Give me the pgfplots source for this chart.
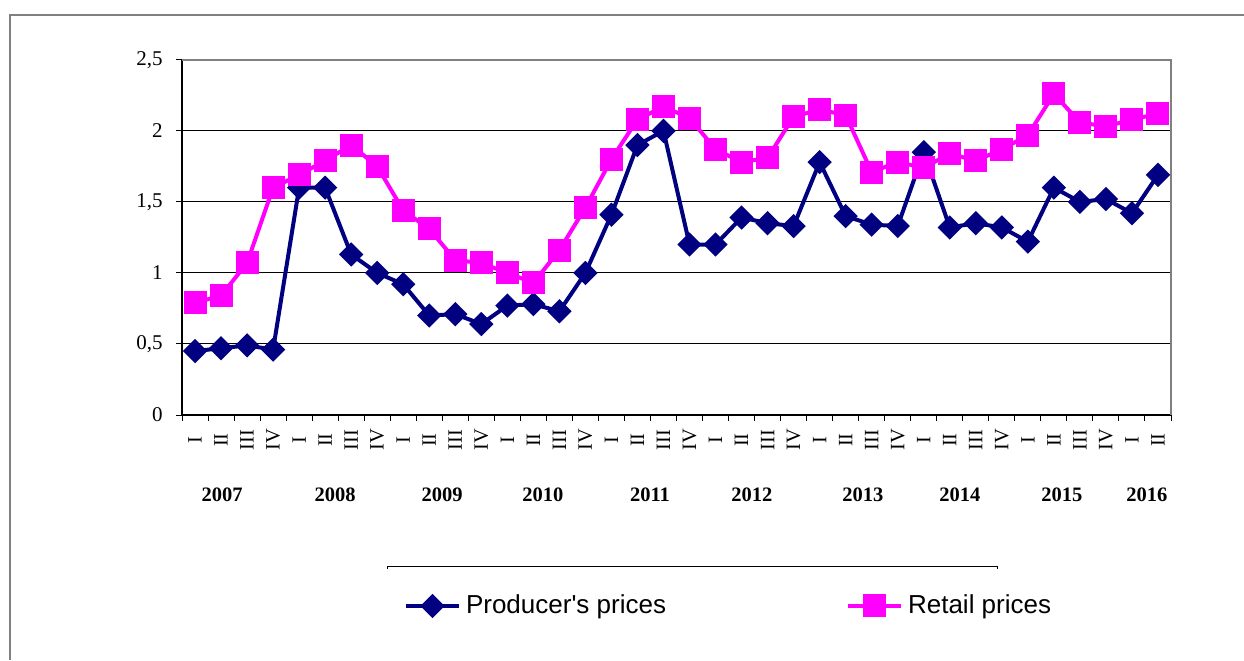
\documentclass[border=0pt]{standalone}
\usepackage{fontspec}
\setmainfont{Liberation Serif}
\newfontfamily\arial{Liberation Sans}
\usepackage{pgfplots}
\usepackage{pgfplotstable}
\pgfplotsset{compat=1.18}
\definecolor{navyc}{HTML}{000080}
\definecolor{magc}{HTML}{FF00FF}
\tikzset{yearlab/.style={font=\bfseries\fontsize{10.25}{12}\selectfont, anchor=center, yshift=-40pt}}
\pgfplotstableread{
x p r
0.5 0.45 0.79
1.5 0.47 0.84
2.5 0.49 1.07
3.5 0.46 1.60
4.5 1.60 1.69
5.5 1.60 1.79
6.5 1.13 1.90
7.5 1.00 1.75
8.5 0.92 1.44
9.5 0.70 1.31
10.5 0.71 1.09
11.5 0.64 1.07
12.5 0.77 1.00
13.5 0.78 0.93
14.5 0.73 1.16
15.5 1.00 1.46
16.5 1.41 1.80
17.5 1.90 2.08
18.5 2.00 2.17
19.5 1.20 2.09
20.5 1.20 1.87
21.5 1.39 1.78
22.5 1.35 1.81
23.5 1.33 2.10
24.5 1.78 2.15
25.5 1.40 2.11
26.5 1.34 1.71
27.5 1.33 1.78
28.5 1.85 1.74
29.5 1.32 1.84
30.5 1.35 1.79
31.5 1.32 1.87
32.5 1.22 1.97
33.5 1.60 2.26
34.5 1.50 2.06
35.5 1.52 2.03
36.5 1.42 2.08
37.5 1.69 2.12
}\datatable
\begin{document}
\begin{tikzpicture}
\useasboundingbox (0,0) rectangle (622pt,-330pt);
\draw[gray, line width=1pt] (5pt,-330pt) -- (5pt,-7.5pt) -- (622pt,-7.5pt);
\draw[black, line width=0.5pt] (193.5pt,-284.5pt) -- (193.5pt,-283pt) -- (498.5pt,-283pt) -- (498.5pt,-284.5pt);
\begin{axis}[
  at={(91pt,-207.5pt)}, anchor=south west,
  scale only axis, width=494.5pt, height=177.6pt,
  xmin=0, xmax=38, ymin=0, ymax=2.5,
  axis x line*=bottom, axis y line*=left,
  axis line style={black, line width=0.75pt},
  tick align=outside, major tick length=3pt,
  tick style={black, line width=0.5pt},
  xtick={0,...,38},
  x tick label as interval,
  xticklabels={I,II,III,IV,I,II,III,IV,I,II,III,IV,I,II,III,IV,I,II,III,IV,I,II,III,IV,I,II,III,IV,I,II,III,IV,I,II,III,IV,I,II,},
  xticklabel style={rotate=90, anchor=center, inner sep=0pt, font=\fontsize{10.2}{11}\selectfont},
  xticklabel shift=9.5pt,
  ytick={0,0.5,1,1.5,2,2.5},
  yticklabel style={anchor=east, inner sep=0pt, font=\fontsize{10.5}{11}\selectfont},
  yticklabel shift=6.5pt,
  /pgf/number format/use comma,
  /pgf/number format/assume math mode=true,
  ymajorgrids, grid style={black, line width=0.5pt},
  clip=false,
  legend columns=2,
  legend image code/.code={\draw[mark repeat=2,mark phase=2,#1] plot coordinates {(0pt,0pt)(13.25pt,0pt)(26.5pt,0pt)};},
  legend style={draw=none, fill=none, inner sep=0pt, outer sep=0pt,
    at={(axis description cs:0.2245,-0.5376)}, anchor=west,
    font=\arial\fontsize{13}{15}\selectfont,
    nodes={inner xsep=2.5pt, inner ysep=0pt},
    /tikz/every even column/.append style={column sep=87.5pt}},
  legend cell align=left,
]
\draw[gray, line width=1pt] (rel axis cs:0,1) -- (rel axis cs:1,1) -- (rel axis cs:1,0);
\addplot[navyc, line width=2pt, mark=square*, mark size=3.3pt, mark options={rotate=45, solid, fill=navyc, draw=navyc}] table[x=x, y=p] {\datatable};
\addlegendentry{Producer's prices}
\addplot[magc, line width=2pt, mark=square*, mark size=4.75pt, mark options={solid, fill=magc, draw=magc}] table[x=x, y=r] {\datatable};
\addlegendentry{Retail prices}
\node[yearlab] at (axis cs:1.54,0) {2007};
\node[yearlab] at (axis cs:5.88,0) {2008};
\node[yearlab] at (axis cs:9.99,0) {2009};
\node[yearlab] at (axis cs:13.87,0) {2010};
\node[yearlab] at (axis cs:17.98,0) {2011};
\node[yearlab] at (axis cs:21.9,0) {2012};
\node[yearlab] at (axis cs:26.16,0) {2013};
\node[yearlab] at (axis cs:29.89,0) {2014};
\node[yearlab] at (axis cs:33.81,0) {2015};
\node[yearlab] at (axis cs:37.07,0) {2016};
\end{axis}
\end{tikzpicture}
\end{document}
